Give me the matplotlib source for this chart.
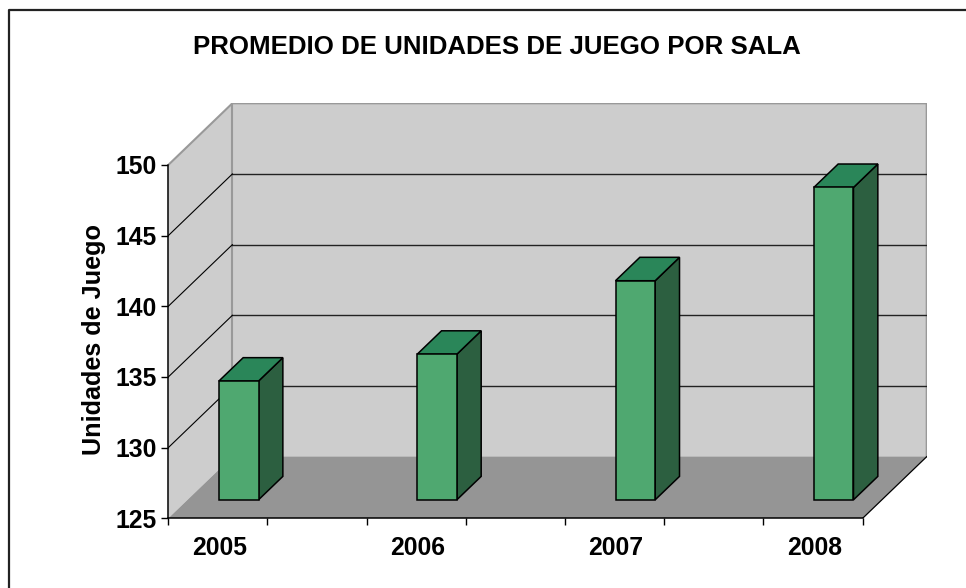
import matplotlib
matplotlib.use("Agg")
import matplotlib.pyplot as plt
from matplotlib.patches import Polygon
import numpy as np

# Average gaming units per room, by year
years = ["2005", "2006", "2007", "2008"]
units = [133.4, 135.3, 140.5, 147.1]
y_ticks = [125, 130, 135, 140, 145, 150]

title = "PROMEDIO DE UNIDADES DE JUEGO POR SALA"
y_label = "Unidades de Juego"

plt.rcParams["font.family"] = ["Liberation Sans", "DejaVu Sans"]
plt.rcParams["font.weight"] = "bold"

# fake 3D box geometry (category units / value units)
Y0, Y1 = 125, 150
XLO, XHI = -0.258, 3.243      # front plane extent in category units
DX, DY = 0.323, 4.36          # depth offset of back wall
BAR_W = 0.2
D_FRONT, D_BACK = 0.30, 0.68  # bar depth position (fraction of box depth)

wall = "#cdcdcd"
floor = "#959595"
face = "#4fa870"
top = "#2a8659"
side = "#2c5f40"


def pt(x, y, d):
    return (x + d * DX, y + d * DY)


fig = plt.figure(figsize=(9.66, 5.88), dpi=100)
ax = fig.add_axes([168.3 / 966, 1 - 518.3 / 588, 758.4 / 966, 415 / 588])
ax.set_xlim(XLO, XHI + DX)
ax.set_ylim(Y0, Y1 + DY)

# walls and floor
back = [pt(XLO, Y0, 1), pt(XHI, Y0, 1), pt(XHI, Y1, 1), pt(XLO, Y1, 1)]
left = [pt(XLO, Y0, 0), pt(XLO, Y0, 1), pt(XLO, Y1, 1), pt(XLO, Y1, 0)]
flr = [pt(XLO, Y0, 0), pt(XHI, Y0, 0), pt(XHI, Y0, 1), pt(XLO, Y0, 1)]
ax.add_patch(Polygon(back, closed=True, fc=wall, ec="none", zorder=1))
ax.add_patch(Polygon(left, closed=True, fc=wall, ec="none", zorder=1))
ax.add_patch(Polygon(flr, closed=True, fc=floor, ec="none", zorder=1))

# wall outlines (gray)
gray = "#999999"
ax.plot(*zip(pt(XLO, Y1, 0), pt(XLO, Y1, 1), pt(XHI, Y1, 1), pt(XHI, Y0, 1)),
        color=gray, lw=1.5, zorder=2, solid_joinstyle="miter")
ax.plot(*zip(pt(XLO, Y0, 1), pt(XLO, Y1, 1)), color=gray, lw=1.5, zorder=2)
# floor right edge
ax.plot(*zip(pt(XHI, Y0, 0), pt(XHI, Y0, 1)), color="black", lw=0.9, zorder=2)

# gridlines on back and left walls
for v in y_ticks[1:-1]:
    ax.plot(*zip(pt(XLO, v, 1), pt(XHI, v, 1)), color="#222222", lw=1.0, zorder=2)
    ax.plot(*zip(pt(XLO, v, 0), pt(XLO, v, 1)), color="black", lw=0.8, zorder=2)

# bars
for i, v in enumerate(units):
    xl, xr = i - BAR_W / 2, i + BAR_W / 2
    fr = [pt(xl, Y0, D_FRONT), pt(xr, Y0, D_FRONT), pt(xr, v, D_FRONT), pt(xl, v, D_FRONT)]
    tp = [pt(xl, v, D_FRONT), pt(xr, v, D_FRONT), pt(xr, v, D_BACK), pt(xl, v, D_BACK)]
    sd = [pt(xr, Y0, D_FRONT), pt(xr, Y0, D_BACK), pt(xr, v, D_BACK), pt(xr, v, D_FRONT)]
    for poly, c in [(sd, side), (tp, top), (fr, face)]:
        ax.add_patch(Polygon(poly, closed=True, fc=c, ec="black", lw=1.1,
                             joinstyle="miter", zorder=3))

# axes: left and bottom spines only
for s in ["top", "right"]:
    ax.spines[s].set_visible(False)
ax.patch.set_visible(False)
ax.spines["left"].set_bounds(Y0, Y1)
ax.spines["bottom"].set_bounds(XLO, XHI)
ax.spines["left"].set_linewidth(1.1)
ax.spines["bottom"].set_linewidth(1.1)
ax.spines["left"].set_zorder(4)
ax.spines["bottom"].set_zorder(4)

ax.set_yticks(y_ticks)
ax.set_yticklabels([str(t) for t in y_ticks])
ax.tick_params(axis="y", length=5, width=1, pad=3, labelsize=17.8)

ax.set_xticks(range(len(years)))
ax.set_xticklabels(years)
ax.set_xticks(np.linspace(XLO, XHI, 8), minor=True)
ax.tick_params(axis="x", which="major", length=0, pad=13, labelsize=17.8)
ax.tick_params(axis="x", which="minor", length=5, width=1)

fig.text(497 / 966, 1 - 54.3 / 588, title, ha="center", va="baseline",
         fontsize=18.6, fontweight="bold")
fig.text(94 / 966, 1 - 339.2 / 588, y_label, rotation=90, ha="center",
         va="center", fontsize=18.2, fontweight="bold")

# chart frame (left and top edges visible)
fig.add_artist(plt.Line2D([8.5 / 966, 8.5 / 966, 1.0], [0.0, 1 - 9.5 / 588, 1 - 9.5 / 588],
                          transform=fig.transFigure, color="#222222", lw=1.6))

fig.savefig("out.png", dpi=100)
